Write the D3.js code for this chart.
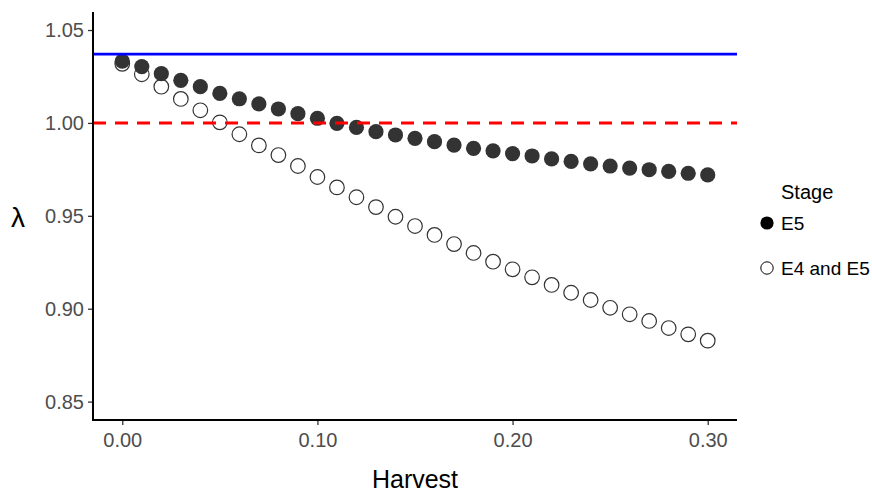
<!DOCTYPE html>
<html>
<head>
<meta charset="utf-8">
<script src="https://cdn.jsdelivr.net/npm/d3@7"></script>
<style>
  body { margin: 0; background: #fff; }
  text { font-family: "Liberation Sans", Arial, sans-serif; }
</style>
</head>
<body>
<svg id="chart" width="872" height="493"></svg>
<script>
// data
harvest = [0.00, 0.01, 0.02, 0.03, 0.04, 0.05, 0.06, 0.07, 0.08, 0.09, 0.10,
           0.11, 0.12, 0.13, 0.14, 0.15, 0.16, 0.17, 0.18, 0.19, 0.20,
           0.21, 0.22, 0.23, 0.24, 0.25, 0.26, 0.27, 0.28, 0.29, 0.30];
lambda_e5 = [1.0332, 1.0303, 1.0265, 1.0229, 1.0195, 1.0159, 1.0130, 1.0102, 1.0075, 1.0050, 1.0025,
             0.9998, 0.9976, 0.9953, 0.9935, 0.9917, 0.9899, 0.9881, 0.9863, 0.9850, 0.9835,
             0.9822, 0.9806, 0.9793, 0.9780, 0.9768, 0.9757, 0.9748, 0.9739, 0.9729, 0.9720];
lambda_e4e5 = [1.0318, 1.0262, 1.0195, 1.0129, 1.0068, 1.0003, 0.9939, 0.9879, 0.9827, 0.9768, 0.9709,
               0.9653, 0.9600, 0.9547, 0.9495, 0.9445, 0.9397, 0.9348, 0.9300, 0.9253, 0.9212,
               0.9169, 0.9128, 0.9086, 0.9047, 0.9005, 0.8970, 0.8934, 0.8896, 0.8862, 0.8828];
stages = ["E5", "E4 and E5"];
x_ticks = [0.00, 0.10, 0.20, 0.30];
y_ticks = [0.85, 0.90, 0.95, 1.00, 1.05];
baseline_lambda = 1.037;
threshold_lambda = 1.00;

svg = d3.select("#chart");
left = 93; right = 737; top_ = 12; bottom = 420;

x = d3.scaleLinear().domain([-0.015, 0.315]).range([left, right]);
y = d3.scaleLinear().domain([0.8401, 1.0597]).range([bottom, top_]);

// points: open first, filled on top
svg.append("g").selectAll("circle")
    .data(harvest.map((h, i) => ({h: h, v: lambda_e4e5[i]})))
    .join("circle")
    .attr("cx", d => x(d.h))
    .attr("cy", d => y(d.v))
    .attr("r", 7.3)
    .attr("fill", "none")
    .attr("stroke", "#333333")
    .attr("stroke-width", 1.2);

svg.append("g").selectAll("circle")
    .data(harvest.map((h, i) => ({h: h, v: lambda_e5[i]})))
    .join("circle")
    .attr("cx", d => x(d.h))
    .attr("cy", d => y(d.v))
    .attr("r", 7.6)
    .attr("fill", "#333333");

// reference lines
svg.append("line")
    .attr("x1", left).attr("x2", right)
    .attr("y1", y(baseline_lambda)).attr("y2", y(baseline_lambda))
    .attr("stroke", "#0000ff")
    .attr("stroke-width", 2.8);

svg.append("line")
    .attr("x1", left).attr("x2", right)
    .attr("y1", y(threshold_lambda)).attr("y2", y(threshold_lambda))
    .attr("stroke", "#ff0000")
    .attr("stroke-width", 3)
    .attr("stroke-dasharray", "13,9");

// axes
xAxis = svg.append("g")
    .attr("transform", `translate(0,${bottom})`)
    .call(d3.axisBottom(x).tickValues(x_ticks).tickFormat(d3.format(".2f")).tickSizeOuter(0).tickSize(5).tickPadding(8));
yAxis = svg.append("g")
    .attr("transform", `translate(${left},0)`)
    .call(d3.axisLeft(y).tickValues(y_ticks).tickFormat(d3.format(".2f")).tickSizeOuter(0).tickSize(5).tickPadding(4));

[xAxis, yAxis].forEach(a => {
    a.select(".domain").remove();
    a.selectAll(".tick line").attr("stroke", "#333333").attr("stroke-width", 1.3);
    a.selectAll(".tick text").attr("fill", "#4d4d4d").style("font-size", "20px");
});

svg.append("line")
    .attr("x1", left - 1).attr("x2", right)
    .attr("y1", bottom).attr("y2", bottom)
    .attr("stroke", "black").attr("stroke-width", 2);
svg.append("line")
    .attr("x1", left).attr("x2", left)
    .attr("y1", top_).attr("y2", bottom + 1)
    .attr("stroke", "black").attr("stroke-width", 2);

// axis titles
svg.append("text")
    .attr("x", (left + right) / 2)
    .attr("y", 488)
    .attr("text-anchor", "middle")
    .style("font-size", "25px")
    .text("Harvest");

svg.append("text")
    .attr("x", 18)
    .attr("y", 217)
    .attr("dy", "0.35em")
    .attr("text-anchor", "middle")
    .style("font-size", "28px")
    .text("λ");

// legend
legend = svg.append("g");
legend.append("text")
    .attr("x", 781)
    .attr("y", 199)
    .style("font-size", "20px")
    .text("Stage");

legend_items = legend.selectAll(".key")
    .data(stages)
    .join("g")
    .attr("class", "key")
    .attr("transform", (d, i) => `translate(0,${223 + i * 45})`);

legend_items.append("circle")
    .attr("cx", 767)
    .attr("r", (d, i) => i === 0 ? 6.6 : 6.2)
    .attr("fill", (d, i) => i === 0 ? "black" : "none")
    .attr("stroke", "black")
    .attr("stroke-width", (d, i) => i === 0 ? 0 : 1);

legend_items.append("text")
    .attr("x", 781)
    .attr("dy", "0.35em")
    .style("font-size", "19px")
    .text(d => d);
</script>
</body>
</html>
